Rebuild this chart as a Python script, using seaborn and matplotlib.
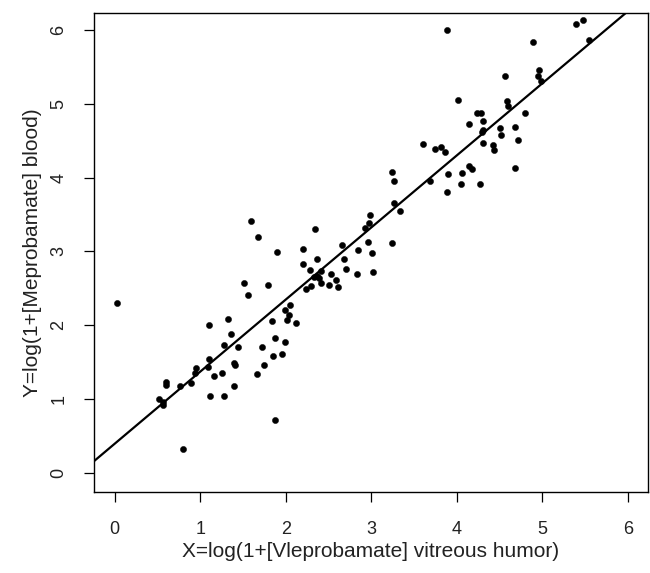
import numpy as np
import pandas as pd
import matplotlib
matplotlib.use("Agg")
import matplotlib.pyplot as plt
import seaborn as sns

# -----------------------------
# Data
# -----------------------------
x_vitreous = [
    0.03, 1.51, 1.79, 1.56, 1.10, 1.32, 1.36, 1.28, 1.44, 1.10,
    1.09, 0.95, 0.94, 0.89, 0.76, 0.60, 0.60, 0.52, 0.57, 0.57,
    1.16, 1.25, 1.39, 1.41, 1.39, 1.11, 1.28, 0.80, 1.87, 1.66,
    1.75, 1.72, 1.85, 1.96, 1.87, 1.99, 1.84, 1.99, 2.05, 2.04,
    2.01, 2.12, 1.59, 1.67, 1.90, 2.34, 2.20, 2.20, 2.37, 2.28,
    2.41, 2.36, 2.39, 2.41, 2.33, 2.30, 2.24, 2.50, 2.53, 2.59,
    2.61, 2.66, 2.68, 2.70, 2.84, 2.83, 2.96, 3.01, 3.02, 2.99,
    2.97, 2.93, 3.24, 3.26, 3.34, 3.26, 3.24, 3.69, 4.56, 4.96,
    4.95, 4.98, 4.01, 4.59, 4.60, 4.24, 4.28, 4.80, 4.31, 4.14,
    4.50, 4.68, 4.31, 4.30, 4.52, 4.72, 4.31, 4.42, 4.43, 3.60,
    3.75, 3.82, 3.86, 4.68, 4.14, 4.18, 4.06, 3.90, 4.05, 4.27,
    3.89, 3.89, 4.89, 5.39, 5.47, 5.55,
]
y_blood = [
    2.31, 2.57, 2.55, 2.41, 2.01, 2.09, 1.88, 1.73, 1.71, 1.54,
    1.44, 1.42, 1.35, 1.22, 1.18, 1.24, 1.19, 1.01, 0.92, 0.97,
    1.32, 1.35, 1.49, 1.47, 1.18, 1.05, 1.05, 0.33, 0.72, 1.34,
    1.47, 1.71, 1.59, 1.61, 1.83, 1.77, 2.06, 2.21, 2.28, 2.14,
    2.08, 2.03, 3.41, 3.19, 2.99, 3.31, 3.04, 2.83, 2.90, 2.75,
    2.74, 2.67, 2.64, 2.58, 2.66, 2.53, 2.49, 2.55, 2.69, 2.62,
    2.52, 3.09, 2.90, 2.77, 3.02, 2.69, 3.13, 2.98, 2.72, 3.49,
    3.39, 3.32, 3.12, 3.65, 3.55, 3.96, 4.08, 3.96, 5.38, 5.45,
    5.38, 5.30, 5.05, 5.04, 4.97, 4.87, 4.88, 4.87, 4.77, 4.72,
    4.67, 4.68, 4.65, 4.61, 4.58, 4.51, 4.47, 4.44, 4.37, 4.46,
    4.39, 4.41, 4.35, 4.13, 4.15, 4.11, 4.06, 4.05, 3.91, 3.91,
    3.80, 6.00, 5.83, 6.08, 6.13, 5.86,
]

# fitted line
fit_intercept = 0.40
fit_slope = 0.975

tick_values = [0, 1, 2, 3, 4, 5, 6]

df = pd.DataFrame({"x": x_vitreous, "y": y_blood})

# -----------------------------
# Plot
# -----------------------------
sns.set_style("ticks")
plt.rcParams["font.family"] = ["Liberation Sans", "DejaVu Sans"]

fig = plt.figure(figsize=(6.5, 5.73), dpi=100)
ax = fig.add_axes([94 / 650, 1 - 491.7 / 573, 554 / 650, 479 / 573])

sns.scatterplot(data=df, x="x", y="y", ax=ax, color="black",
                s=20, edgecolor="black", linewidth=0.3, zorder=3)

xlim = (-0.242, 6.235)
ylim = (-0.249, 6.23)
line_x = np.array(xlim)
ax.plot(line_x, fit_intercept + fit_slope * line_x, color="black", lw=1.6, zorder=2)

ax.set_xlim(*xlim)
ax.set_ylim(*ylim)
ax.set_xticks(tick_values)
ax.set_yticks(tick_values)
ax.set_xticklabels([str(t) for t in tick_values], fontsize=13)
ax.set_yticklabels([str(t) for t in tick_values], fontsize=13, rotation=90, va="center")

ax.tick_params(axis="both", length=7, width=0.9, color="black", labelcolor="#222222")
ax.tick_params(axis="x", pad=14)
ax.tick_params(axis="y", pad=12)

for side in ["top", "right", "left", "bottom"]:
    ax.spines[side].set_visible(True)
    ax.spines[side].set_linewidth(1.0)
    ax.spines[side].set_color("black")

ax.set_xlabel("X=log(1+[Vleprobamate] vitreous humor)", fontsize=15, color="#222222", labelpad=3)
ax.set_ylabel("Y=log(1+[Meprobamate] blood)", fontsize=15, color="#222222", labelpad=6)

fig.savefig("out.png", dpi=100)
plt.close(fig)
